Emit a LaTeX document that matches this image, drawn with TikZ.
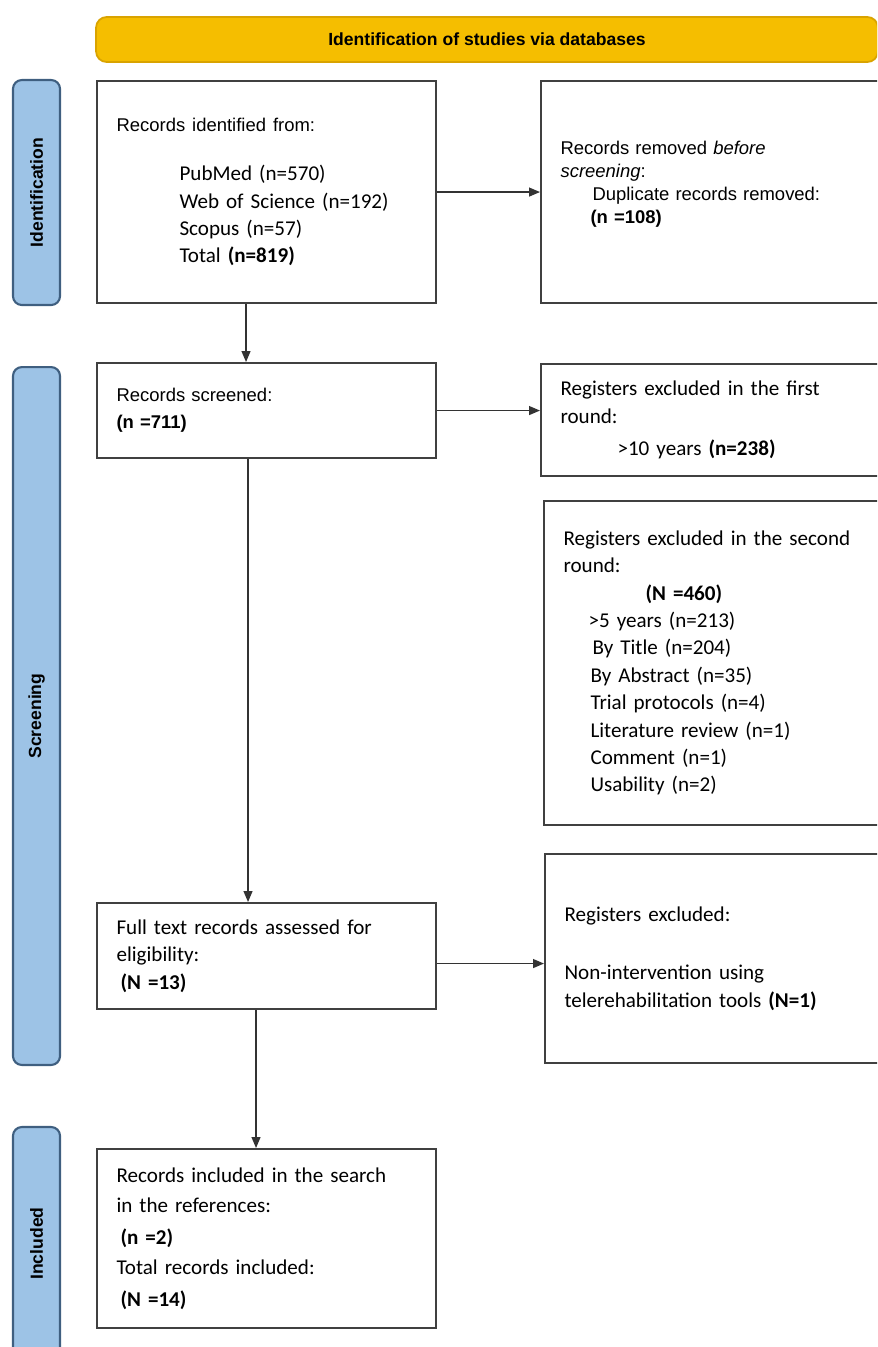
\documentclass[tikz,border=0pt]{standalone}
\usepackage{fontspec}
\setmainfont{Carlito}
\newfontfamily\arialfont{Liberation Sans}
\usetikzlibrary{arrows.meta,positioning}

\definecolor{bannerfill}{HTML}{F5BE00}
\definecolor{bannerdraw}{HTML}{D9A300}
\definecolor{phasefill}{HTML}{9DC3E6}
\definecolor{phasedraw}{HTML}{3F5F80}

\tikzset{
	box/.style={draw=black!75, line width=1.2pt, fill=white, anchor=north west, align=left, inner xsep=0.39cm, font=\fontsize{12}{15.6}\selectfont},
	arialtext/.style={font=\arialfont\fontsize{10.5}{13}\selectfont},
	phase/.style={draw=phasedraw, line width=1.2pt, fill=phasefill, rounded corners=5pt, rotate=90, minimum height=0.94cm, font=\arialfont\bfseries\fontsize{10}{12}\selectfont},
	banner/.style={draw=bannerdraw, line width=1pt, fill=bannerfill, rounded corners=6pt, minimum width=15.64cm, minimum height=0.9cm, font=\arialfont\bfseries\fontsize{10}{12}\selectfont},
	arr/.style={-{Triangle[length=2.2mm,width=1.8mm]}, draw=black!80, line width=0.7pt}
}

\begin{document}
\begin{tikzpicture}[x=0.02cm, y=-0.02cm]
	\useasboundingbox (0,0) rectangle (877,1347);
	\clip (0,0) rectangle (877,1347);
	
	\node[banner] (head) at (487,39.5) {Identification of studies via databases};
	
	\foreach \y/\h/\name/\txt in {192.5/4.5cm/idph/Identification, 716/13.96cm/scph/Screening, 1243.5/4.66cm/inph/Included}
	\node[phase, minimum width=\h] (\name) at (36.5,\y) {\txt};
	
	% left column
	\node[box, text width=6cm, minimum height=4.44cm] (ident) at (96,80) {{\arialfont\fontsize{10.5}{13}\selectfont Records identified from:}\\[0.44cm]
		\hspace*{1.26cm}PubMed (n=570)\\
		\hspace*{1.26cm}Web of Science (n=192)\\
		\hspace*{1.26cm}Scopus (n=57)\\
		\hspace*{1.26cm}Total \textbf{(n=819)}};
	\node[box, arialtext, text width=6cm, minimum height=1.9cm] (screened) at (96,362) {Records screened:\\[0.08cm] \textbf{(n =711)}};
	\node[box, text width=6cm, minimum height=2.12cm] (fulltext) at (96,902) {Full text records assessed for\\
		eligibility:\\
		\hspace*{0.08cm}\textbf{(N =13)}};
	\node[box, text width=6cm, minimum height=3.58cm] (included) at (96,1148) {Records included in the search\\[0.06cm]
		in the references:\\[0.08cm]
		\hspace*{0.08cm}\textbf{(n =2)}\\[0.06cm]
		Total records included:\\[0.08cm]
		\hspace*{0.08cm}\textbf{(N =14)}};
	
	% right column
	\node[box, arialtext, text width=6.6cm, minimum height=4.44cm] (removed) at (540,80) {Records removed \textit{before}\\
		\textit{screening}:\\
		\hspace*{0.64cm}Duplicate records removed:\\
		\hspace*{0.6cm}\textbf{(n =108)}\\[-0.06cm]
		\mbox{}};
	\node[box, text width=6.6cm, minimum height=2.24cm] (first) at (540,363) {Registers excluded in the first\\
		round:\\[0.1cm]
		\hspace*{1.14cm}>10 years \textbf{(n=238)}};
	\node[box, text width=6.6cm, minimum height=6.48cm] (second) at (543,500) {Registers excluded in the second\\
		round:\\
		\hspace*{1.64cm}\textbf{(N =460)}\\
		\hspace*{0.5cm}>5 years (n=213)\\
		\hspace*{0.58cm}By Title (n=204)\\
		\hspace*{0.54cm}By Abstract (n=35)\\
		\hspace*{0.54cm}Trial protocols (n=4)\\
		\hspace*{0.54cm}Literature review (n=1)\\
		\hspace*{0.54cm}Comment (n=1)\\
		\hspace*{0.54cm}Usability (n=2)};
	\node[box, text width=6.6cm, minimum height=4.18cm] (regexcl) at (544,853) {Registers excluded:\\[0.62cm]
		Non-intervention using\\
		telerehabilitation tools \textbf{(N=1)}};
	
	% arrows
	\draw[arr] ([xshift=-0.41cm]ident.south) -- ([xshift=-0.41cm]screened.north);
	\draw[arr] (ident.east) -- (ident.east -| removed.west);
	\draw[arr] (screened.east) -- (screened.east -| first.west);
	\draw[arr] ([xshift=-0.37cm]screened.south) -- ([xshift=-0.37cm]fulltext.north);
	\draw[arr] ([yshift=-0.15cm]fulltext.east) -- ([yshift=-0.15cm]fulltext.east -| regexcl.west);
	\draw[arr] ([xshift=-0.21cm]fulltext.south) -- ([xshift=-0.21cm]included.north);
\end{tikzpicture}
\end{document}
